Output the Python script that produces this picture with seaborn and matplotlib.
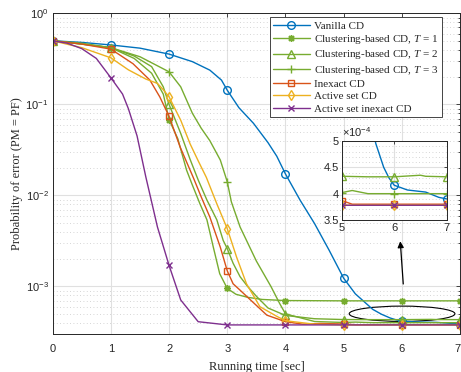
import numpy as np
import pandas as pd
import matplotlib
matplotlib.use("Agg")
import matplotlib.pyplot as plt
import seaborn as sns
from matplotlib.patches import Ellipse
from matplotlib.ticker import LogLocator, FuncFormatter, MultipleLocator, NullFormatter

# values (running time [sec], probability of error)
vanilla_x = [0, 0.5, 1, 1.5, 2, 2.4, 2.7, 2.9, 3, 3.2, 3.45, 3.7, 3.85, 4, 4.25, 4.5, 4.75, 5,
             5.2, 5.5, 5.65, 5.8, 5.9, 6, 6.25, 6.6, 6.85, 7]
vanilla_y = [0.5, 0.48, 0.45, 0.415, 0.357, 0.295, 0.238, 0.185, 0.143, 0.092, 0.062, 0.038, 0.027,
             0.0172, 0.0089, 0.0049, 0.0025, 0.00123, 8.3e-4, 5.6e-4, 4.95e-4, 4.5e-4, 4.3e-4,
             4.16e-4, 4.07e-4, 4.03e-4, 3.93e-4, 3.9e-4]

clust1_x = [0, 0.5, 1, 1.4, 1.7, 1.9, 2, 2.15, 2.3, 2.4, 2.53, 2.65, 2.76, 2.87, 3, 3.15, 3.35,
            3.6, 4, 5, 6, 7]
clust1_y = [0.5, 0.46, 0.42, 0.32, 0.22, 0.13, 0.068, 0.042, 0.019, 0.013, 0.0081, 0.0054, 0.0027,
            0.00138, 9.5e-4, 8.2e-4, 7.6e-4, 7.2e-4, 7.0e-4, 6.95e-4, 6.95e-4, 6.95e-4]

clust2_x = [0, 0.5, 1, 1.4, 1.7, 1.9, 2, 2.2, 2.36, 2.5, 2.65, 2.82, 2.93, 3, 3.1, 3.22, 3.35,
            3.5, 3.7, 4, 4.5, 5, 5.5, 6, 6.5, 6.6, 7]
clust2_y = [0.5, 0.46, 0.42, 0.34, 0.26, 0.156, 0.1, 0.048, 0.025, 0.0148, 0.0089, 0.0054, 0.0032,
            0.0026, 0.0018, 0.00128, 0.001, 7.8e-4, 5.8e-4, 4.8e-4, 4.42e-4, 4.33e-4, 4.32e-4,
            4.32e-4, 4.35e-4, 4.33e-4, 4.32e-4]

clust3_x = [0, 0.5, 1, 1.5, 2, 2.2, 2.4, 2.55, 2.7, 2.88, 3, 3.07, 3.22, 3.5, 3.75, 3.9, 4, 4.5,
            5, 5.2, 5.5, 6, 7]
clust3_y = [0.5, 0.47, 0.42, 0.334, 0.228, 0.156, 0.08, 0.055, 0.04, 0.0245, 0.0141, 0.0085,
            0.0045, 0.0019, 0.001, 6.5e-4, 5.0e-4, 4.12e-4, 4.02e-4, 4.06e-4, 4.0e-4, 4.0e-4, 4.0e-4]

inexact_x = [0, 0.5, 1, 1.38, 1.67, 1.84, 2, 2.19, 2.42, 2.55, 2.7, 2.88, 3, 3.1, 3.22, 3.4, 3.68,
             4, 4.3, 4.6, 5, 5.2, 6, 7]
inexact_y = [0.5, 0.46, 0.405, 0.28, 0.185, 0.121, 0.074, 0.034, 0.0155, 0.0097, 0.0058, 0.0027,
             0.00148, 0.00107, 9.1e-4, 7.1e-4, 4.84e-4, 4.1e-4, 3.85e-4, 3.92e-4, 3.87e-4, 3.8e-4,
             3.8e-4, 3.8e-4]

active_x = [0, 0.5, 1, 1.3, 1.6, 1.8, 1.9, 2, 2.2, 2.36, 2.5, 2.64, 2.82, 3, 3.16, 3.33, 3.56,
            3.85, 4, 4.5, 5, 6, 7]
active_y = [0.5, 0.42, 0.325, 0.24, 0.19, 0.17, 0.145, 0.121, 0.067, 0.037, 0.024, 0.0158, 0.0081,
            0.0043, 0.0021, 0.00107, 6e-4, 4.7e-4, 4.2e-4, 3.85e-4, 3.78e-4, 3.78e-4, 3.78e-4]

actinex_x = [0, 0.25, 0.5, 0.75, 1, 1.2, 1.3, 1.45, 1.6, 1.8, 2, 2.2, 2.5, 3, 4, 5, 6, 7]
actinex_y = [0.5, 0.47, 0.41, 0.32, 0.196, 0.13, 0.09, 0.045, 0.016, 0.0045, 0.0017, 7.1e-4,
             4.1e-4, 3.78e-4, 3.78e-4, 3.78e-4, 3.78e-4, 3.78e-4]

labels = ["Vanilla CD", "Clustering-based CD, $T$ = 1", "Clustering-based CD, $T$ = 2",
          "Clustering-based CD, $T$ = 3", "Inexact CD", "Active set CD", "Active set inexact CD"]

series = [
    (vanilla_x, vanilla_y, "#0072BD", "o", 5.5),
    (clust1_x, clust1_y, "#77AC30", (8, 2, 0), 5.0),
    (clust2_x, clust2_y, "#77AC30", "^", 5.5),
    (clust3_x, clust3_y, "#77AC30", "+", 6.0),
    (inexact_x, inexact_y, "#D95319", "s", 5.0),
    (active_x, active_y, "#EDB120", "d", 5.5),
    (actinex_x, actinex_y, "#7E2F8E", "x", 4.0),
]

sns.set_style("white")
plt.rcParams["font.family"] = ["Liberation Sans", "DejaVu Sans"]
plt.rcParams["mathtext.fontset"] = "custom"
plt.rcParams["mathtext.rm"] = "Liberation Sans"
plt.rcParams["mathtext.it"] = "Liberation Serif:italic"
plt.rcParams["xtick.direction"] = "in"
plt.rcParams["ytick.direction"] = "in"

fig = plt.figure(figsize=(4.61, 3.72), dpi=100)
ax = fig.add_axes([0.1143, 0.102, 0.8837, 0.862])
ax_in = fig.add_axes([0.7412, 0.4086, 0.2278, 0.2124])


def draw(a, with_label):
    for (xs, ys, col, mk, ms), lab in zip(series, labels):
        df = pd.DataFrame({"t": xs, "p": ys})
        marks = [i for i, v in enumerate(xs) if float(v).is_integer()]
        open_mk = mk not in ("+", "x", (8, 2, 0))
        sns.lineplot(data=df, x="t", y="p", ax=a, color=col, lw=1.0, marker=mk, markevery=marks,
                     markersize=ms, markerfacecolor="none" if open_mk else col,
                     markeredgecolor=col, markeredgewidth=1.0,
                     label=lab if with_label else None, legend=False, sort=False)


draw(ax, True)
draw(ax_in, False)

ax.set_yscale("log")
ax.set_xlim(0, 7)
ax.set_ylim(3e-4, 1)
ax.set_xticks(range(8))
ax.yaxis.set_major_locator(LogLocator(base=10, numticks=10))
ax.yaxis.set_minor_locator(LogLocator(base=10, subs=np.arange(2, 10), numticks=20))
ax.yaxis.set_minor_formatter(NullFormatter())
ax.grid(True, which="major", color="#e0e0e0", lw=0.8)
ax.grid(True, which="minor", axis="y", color="#c8c8c8", lw=0.6, ls=(0, (1, 3)))
ax.tick_params(which="both", top=True, right=True, labelsize=8, length=3, width=0.6)
ax.tick_params(axis="x", pad=7)
ax.tick_params(axis="y", pad=3)
ax.tick_params(which="minor", length=1.8)
ax.get_xticklabels()[-1].set_ha("right")
for s in ax.spines.values():
    s.set_linewidth(0.7)
    s.set_color("#262626")
ax.set_xlabel("Running time [sec]", family="Liberation Serif", fontsize=9, labelpad=5)
ax.set_ylabel("Probability of error (PM = PF)", family="Liberation Serif", fontsize=9, labelpad=2)

leg = ax.legend(loc="upper right", bbox_to_anchor=(0.955, 0.9875), borderaxespad=0,
                prop={"family": "Liberation Serif", "size": 8}, frameon=True, fancybox=False,
                framealpha=1, edgecolor="#262626", handlelength=3.3, labelspacing=0.22,
                borderpad=0.3, handletextpad=0.4)
leg.get_frame().set_linewidth(0.6)

# zoom marker on the main axes
ax.add_patch(Ellipse((0.8576, 0.0633), 0.2595, 0.0477, transform=ax.transAxes,
                     fill=False, ec="black", lw=0.8))
ax.annotate("", xy=(0.8527, 0.298), xytext=(0.861, 0.1475), xycoords="axes fraction",
            arrowprops=dict(arrowstyle="-|>", color="black", lw=0.9, mutation_scale=9))

# inset
ax_in.set_xlim(5, 7)
ax_in.set_ylim(3.5e-4, 5e-4)
ax_in.set_xticks([5, 6, 7])
ax_in.yaxis.set_major_locator(MultipleLocator(0.5e-4))
ax_in.yaxis.set_minor_locator(MultipleLocator(0.1e-4))
ax_in.yaxis.set_major_formatter(FuncFormatter(lambda v, p: f"{v * 1e4:g}"))
ax_in.text(0.0, 1.02, r"$\times\mathdefault{10^{-4}}$", transform=ax_in.transAxes,
           fontsize=8, ha="left", va="bottom")
ax_in.set_xlabel("")
ax_in.set_ylabel("")
ax_in.grid(True, which="major", color="#e0e0e0", lw=0.8)
ax_in.grid(True, which="minor", axis="y", color="#c8c8c8", lw=0.6, ls=(0, (1, 3)))
ax_in.tick_params(which="both", top=True, right=True, labelsize=8, length=2.5, width=0.6, pad=2)
ax_in.tick_params(which="minor", length=0)
ax_in.set_facecolor("white")
for s in ax_in.spines.values():
    s.set_linewidth(0.7)
    s.set_color("#262626")

fig.savefig("out.png", dpi=100)
